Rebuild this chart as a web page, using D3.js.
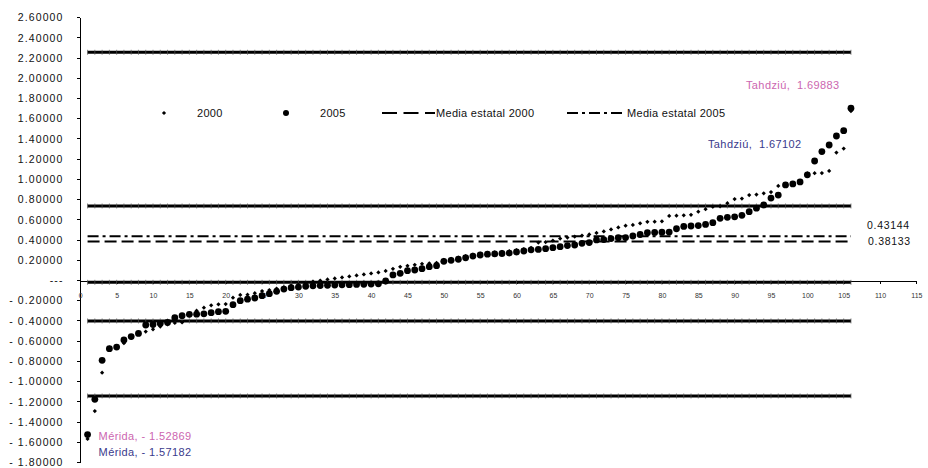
<!DOCTYPE html>
<html>
<head>
<meta charset="utf-8" />
<style>
body { margin:0; background:#fff; }
svg { display:block; font-family:"Liberation Sans", Arial, sans-serif; }
.eje path, .eje line { stroke:#000; stroke-width:1; shape-rendering:crispEdges; }
.ejeY text { font-size:10.5px; letter-spacing:1.1px; fill:#111; }
.ejeX text { font-size:7px; fill:#333; }
.leyenda text { font-size:11px; letter-spacing:0.3px; fill:#111; }
.nota { font-size:11px; letter-spacing:0.4px; }
.valor { font-size:10.5px; letter-spacing:0.7px; fill:#111; }
</style>
</head>
<body>
<svg id="grafica" width="928" height="468"></svg>
<script src="https://cdn.jsdelivr.net/npm/d3@7/dist/d3.min.js"></script>
<script>

// indice 2000 (rombos) y 2005 (circulos), municipios ordenados
var ind2000 = [-1.57182,-1.296,-0.917,-0.67,-0.655,-0.625,-0.57,-0.535,-0.51,-0.488,
	-0.46,-0.44,-0.425,-0.42,-0.35,-0.303,-0.274,-0.25,-0.24,-0.238,
	-0.175,-0.148,-0.145,-0.13,-0.109,-0.1,-0.085,-0.07,-0.055,-0.045,
	-0.03,-0.015,-0.005,0.005,0.015,0.025,0.035,0.045,0.055,0.065,
	0.075,0.09,0.11,0.13,0.14,0.15,0.16,0.165,0.17,0.2,
	0.21,0.222,0.235,0.25,0.26,0.268,0.272,0.278,0.285,0.295,
	0.305,0.318,0.37,0.375,0.39,0.41,0.42,0.43,0.44,0.45,
	0.465,0.48,0.5,0.52,0.537,0.545,0.56,0.575,0.577,0.58,
	0.634,0.636,0.64,0.645,0.676,0.7,0.725,0.73,0.76,0.8,
	0.805,0.84,0.845,0.857,0.87,0.93,0.945,0.955,0.98,1.055,
	1.056,1.058,1.078,1.26,1.3,1.67102];
var ind2005 = [-1.52869,-1.18,-0.794,-0.679,-0.663,-0.593,-0.56,-0.528,-0.445,-0.44,
	-0.43,-0.42,-0.373,-0.353,-0.34,-0.338,-0.335,-0.323,-0.313,-0.31,
	-0.244,-0.205,-0.19,-0.178,-0.155,-0.135,-0.112,-0.09,-0.076,-0.07,
	-0.062,-0.058,-0.055,-0.052,-0.05,-0.048,-0.046,-0.044,-0.042,-0.04,
	-0.038,-0.01,0.05,0.066,0.092,0.099,0.112,0.132,0.142,0.185,
	0.195,0.205,0.22,0.237,0.247,0.255,0.258,0.262,0.266,0.277,
	0.287,0.298,0.302,0.31,0.32,0.33,0.34,0.346,0.363,0.37,
	0.396,0.4,0.41,0.418,0.42,0.435,0.45,0.468,0.47,0.472,
	0.474,0.507,0.53,0.534,0.538,0.55,0.567,0.61,0.62,0.625,
	0.64,0.676,0.71,0.742,0.81,0.84,0.94,0.95,0.97,1.04,
	1.177,1.27,1.335,1.424,1.477,1.69883];
var limites = [2.252, 0.732, -0.023, -0.405, -1.147];
var medias = [0.38133, 0.43144];
var mediaNombres = ["Media estatal 2000", "Media estatal 2005"];
var serieNombres = ["2000", "2005"];
var xTicks = d3.range(0, 116, 5);
var yTicks = d3.range(-9, 14).map(function(k) { return +(k * 0.2).toFixed(1); });
var notas = [
	{texto:"Tahdziú,  1.69883", color:"#cc66b0", x:106, y:1.69883, dx:-105, dy:-23},
	{texto:"Tahdziú,  1.67102", color:"#3a3a8c", x:106, y:1.67102, dx:-143, dy:33},
	{texto:"Mérida, - 1.52869", color:"#cc66b0", x:1, y:-1.52869, dx:11, dy:2},
	{texto:"Mérida, - 1.57182", color:"#3a3a8c", x:1, y:-1.57182, dx:11, dy:13}
];

var svg = d3.select("#grafica");
var x = d3.scaleLinear().domain([0, 115]).range([80.3, 916.4]);
var y = d3.scaleLinear().domain([-1.8, 2.6]).range([462, 17.1]);
var ns = d3.range(1, 107);

var fmt = function(v) {
	if (Math.abs(v) < 1e-9) return "---";
	return v < 0 ? "- " + (-v).toFixed(5) : v.toFixed(5);
};

// ejes
svg.append("g").attr("class", "eje ejeY")
	.attr("transform", "translate(79.5,0)")
	.call(d3.axisLeft(y).tickValues(yTicks).tickFormat(fmt).tickSize(3).tickSizeOuter(0).tickPadding(13))
	.call(function(g) { g.selectAll("text").attr("dy", "0.36em"); });

svg.append("g").attr("class", "eje ejeX")
	.attr("transform", "translate(0,280.5)")
	.call(d3.axisBottom(x).tickValues(xTicks).tickSize(3).tickSizeOuter(0).tickPadding(10));

// lineas de limites de estrato (serie con marcadores)
var lim = svg.append("g");
limites.forEach(function(v) {
	lim.append("line")
		.attr("x1", x(1)).attr("x2", x(106))
		.attr("y1", y(v)).attr("y2", y(v))
		.attr("stroke", "#000").attr("stroke-width", 3);
	lim.selectAll(null).data(ns).enter().append("line")
		.attr("x1", function(d) { return x(d); }).attr("x2", function(d) { return x(d); })
		.attr("y1", y(v) - 2.5).attr("y2", y(v) + 2.5)
		.attr("stroke", "#555").attr("stroke-width", 0.7);
});

// medias estatales
var dashes = ["12,5", "11,4,3,4"];
medias.forEach(function(v, i) {
	svg.append("line")
		.attr("x1", x(1)).attr("x2", x(106))
		.attr("y1", y(v)).attr("y2", y(v))
		.attr("stroke", "#000").attr("stroke-width", 2)
		.attr("stroke-dasharray", dashes[i]);
});
svg.append("text").attr("class", "valor").attr("x", 867).attr("y", y(medias[1]) - 11).attr("dy", "0.35em").text(medias[1].toFixed(5));
svg.append("text").attr("class", "valor").attr("x", 868).attr("y", y(medias[0])).attr("dy", "0.35em").text(medias[0].toFixed(5));

// puntos
var rombo = d3.symbol().type(d3.symbolSquare).size(9);
svg.append("g").selectAll("path").data(ind2000).enter().append("path")
	.attr("d", rombo)
	.attr("transform", function(d, i) { return "translate(" + x(i + 1) + "," + y(d) + ") rotate(45)"; })
	.attr("fill", "#000");
svg.append("g").selectAll("circle").data(ind2005).enter().append("circle")
	.attr("cx", function(d, i) { return x(i + 1); })
	.attr("cy", function(d) { return y(d); })
	.attr("r", 3.4)
	.attr("fill", "#000");

// notas
svg.selectAll(".nota").data(notas).enter().append("text")
	.attr("class", "nota")
	.attr("x", function(d) { return x(d.x) + d.dx; })
	.attr("y", function(d) { return y(d.y) + d.dy; })
	.attr("dy", "0.35em")
	.attr("fill", function(d) { return d.color; })
	.style("white-space", "pre")
	.text(function(d) { return d.texto; });

// leyenda
var ley = svg.append("g").attr("class", "leyenda").attr("transform", "translate(0,113)");
ley.append("path").attr("d", d3.symbol().type(d3.symbolSquare).size(9)).attr("transform", "translate(164,0) rotate(45)");
ley.append("text").attr("x", 197).attr("dy", "0.35em").text(serieNombres[0]);
ley.append("circle").attr("cx", 286).attr("r", 3);
ley.append("text").attr("x", 320).attr("dy", "0.35em").text(serieNombres[1]);
ley.append("line").attr("x1", 382).attr("x2", 435).attr("stroke", "#000").attr("stroke-width", 2).attr("stroke-dasharray", "15,6.5");
ley.append("text").attr("x", 436).attr("dy", "0.35em").text(mediaNombres[0]);
ley.append("line").attr("x1", 567).attr("x2", 624).attr("stroke", "#000").attr("stroke-width", 2).attr("stroke-dasharray", "11,4,3,4");
ley.append("text").attr("x", 627).attr("dy", "0.35em").text(mediaNombres[1]);

</script>
</body>
</html>
